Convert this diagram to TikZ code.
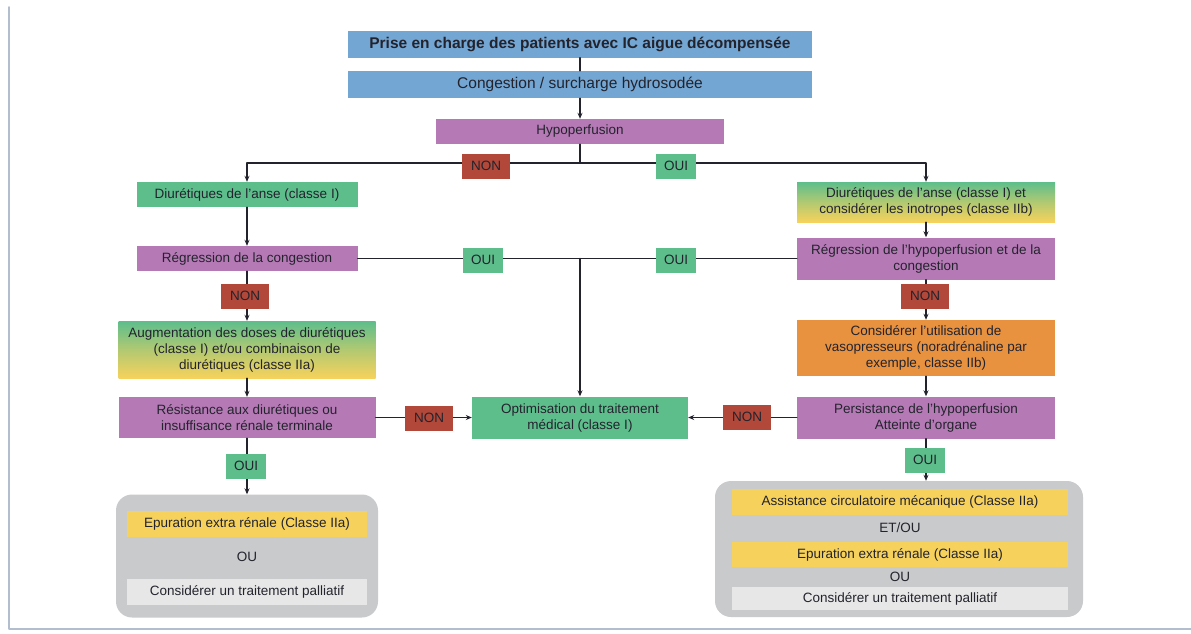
\documentclass[tikz,border=0pt]{standalone}
\usepackage{fontspec}
\setmainfont{Liberation Sans}
\usetikzlibrary{arrows.meta}
\definecolor{bleu}{RGB}{115,166,210}
\definecolor{violet}{RGB}{181,122,181}
\definecolor{vert}{RGB}{93,190,140}
\definecolor{rouge}{RGB}{178,72,58}
\definecolor{orange}{RGB}{232,146,64}
\definecolor{jaune}{RGB}{246,210,92}
\definecolor{gris}{RGB}{201,202,204}
\definecolor{grisclair}{RGB}{231,231,231}
\definecolor{texte}{RGB}{35,35,45}
\definecolor{cadre}{RGB}{178,190,206}
\begin{document}
\begin{tikzpicture}[x=1pt,y=-1pt,line cap=round,line join=round,
  box/.style={inner sep=0pt,align=center,text=texte,font=\fontsize{13.5}{16}\selectfont},
  bleubox/.style={box,fill=bleu,minimum width=464pt,minimum height=27pt,font=\fontsize{15.5}{18}\selectfont},
  violbox/.style={box,fill=violet},
  vertbox/.style={box,fill=vert},
  mixbox/.style={box,top color=vert,bottom color=jaune,middle color=vert!45!jaune},
  jaunebox/.style={box,fill=jaune},
  pallbox/.style={box,fill=grisclair},
  non/.style={box,fill=rouge,minimum width=48pt,minimum height=25pt},
  oui/.style={box,fill=vert,minimum width=40pt,minimum height=25pt},
  lien/.style={draw=texte,line width=1.4pt},
  arr/.style={lien,-{Stealth[length=6pt,width=5pt]}}]
  \useasboundingbox (0,0) rectangle (1191,633);
  \draw[cadre,line width=2pt] (9,7) -- (9,629) -- (1191,629);
  \node[bleubox,font=\bfseries\fontsize{15.5}{18}\selectfont] (prise) at (580,44) {Prise en charge des patients avec IC aigue décompensée};
  \node[bleubox] (cong) at (580,84.5) {Congestion / surcharge hydrosodée};
  \node[violbox,minimum width=288pt,minimum height=25pt] (hypo) at (580,131.5) {Hypoperfusion};
  \node[vertbox,minimum width=221pt,minimum height=25pt] (diurG) at (247,194.5) {Diurétiques de l’anse (classe I)};
  \node[mixbox,minimum width=258pt,minimum height=40pt] (diurD) at (926,202) {Diurétiques de l’anse (classe I) et\\considérer les inotropes (classe IIb)};
  \node[violbox,minimum width=221pt,minimum height=25pt] (regG) at (247,258.5) {Régression de la congestion};
  \node[violbox,minimum width=258pt,minimum height=42pt] (regD) at (926,258.5) {Régression de l’hypoperfusion et de la\\congestion};
  \node[mixbox,minimum width=257pt,minimum height=57pt] (augm) at (247,349.5) {Augmentation des doses de diurétiques\\(classe I) et/ou combinaison de\\diurétiques (classe IIa)};
  \node[box,fill=orange,minimum width=258pt,minimum height=56pt] (vaso) at (926,348) {Considérer l’utilisation de\\vasopresseurs (noradrénaline par\\exemple, classe IIb)};
  \node[violbox,minimum width=257pt,minimum height=41pt] (resist) at (247,417.5) {Résistance aux diurétiques ou\\insuffisance rénale terminale};
  \node[vertbox,minimum width=216pt,minimum height=42pt] (optim) at (580,417.5) {Optimisation du traitement\\médical (classe I)};
  \node[violbox,minimum width=258pt,minimum height=42pt] (persist) at (926,417.5) {Persistance de l’hypoperfusion\\Atteinte d’organe};
  \node[box,fill=gris,rounded corners=16pt,minimum width=262pt,minimum height=123pt] (grisG) at (247,556) {};
  \node[jaunebox,minimum width=240pt,minimum height=26pt] (epurG) at (247,524) {Epuration extra rénale (Classe IIa)};
  \node[box] (ouG) at (247,557) {OU};
  \node[pallbox,minimum width=240pt,minimum height=26pt] (pallG) at (247,592) {Considérer un traitement palliatif};
  \node[box,fill=gris,rounded corners=16pt,minimum width=368pt,minimum height=136pt] (grisD) at (899,549) {};
  \node[jaunebox,minimum width=336pt,minimum height=26pt] (acm) at (900,502) {Assistance circulatoire mécanique (Classe IIa)};
  \node[box] (etou) at (900,527.5) {ET/OU};
  \node[jaunebox,minimum width=336pt,minimum height=25pt] (epurD) at (900,554.5) {Epuration extra rénale (Classe IIa)};
  \node[box] (ouD) at (900,577) {OU};
  \node[pallbox,minimum width=336pt,minimum height=23pt] (pallD) at (900,598.5) {Considérer un traitement palliatif};
  \coordinate (fourche) at (580,163);
  \coordinate (milieu) at (580,258.5);
  \draw[lien] (prise) -- (cong);
  \draw[arr] (cong) -- (hypo);
  \draw[lien] (hypo) -- (fourche);
  \draw[arr] (fourche) -| (diurG);
  \draw[arr] (fourche) -| (diurD);
  \draw[arr] (diurG) -- (regG);
  \draw[arr] (diurD) -- (regD);
  \draw[lien] (regG) -- (regD);
  \draw[arr] (milieu) -- (optim);
  \draw[arr] (regG) -- (augm);
  \draw[arr] (regD) -- (vaso);
  \draw[arr] (augm) -- (resist);
  \draw[arr] (vaso) -- (persist);
  \draw[arr] (resist) -- (optim);
  \draw[arr] (persist) -- (optim);
  \draw[arr] (resist) -- (grisG);
  \draw[arr] (persist) -- (persist |- grisD.north);
  \node[non] (non1) at (486,166) {NON};
  \node[oui] (oui1) at (676,166) {OUI};
  \node[oui] (oui2) at (483,260) {OUI};
  \node[oui] (oui3) at (676,260) {OUI};
  \node[non] (non2) at (245,296) {NON};
  \node[non] (non3) at (925,296) {NON};
  \node[non] (non4) at (429,418) {NON};
  \node[non] (non5) at (747,417) {NON};
  \node[oui] (oui4) at (246,466) {OUI};
  \node[oui] (oui5) at (925,460) {OUI};
\end{tikzpicture}
\end{document}
